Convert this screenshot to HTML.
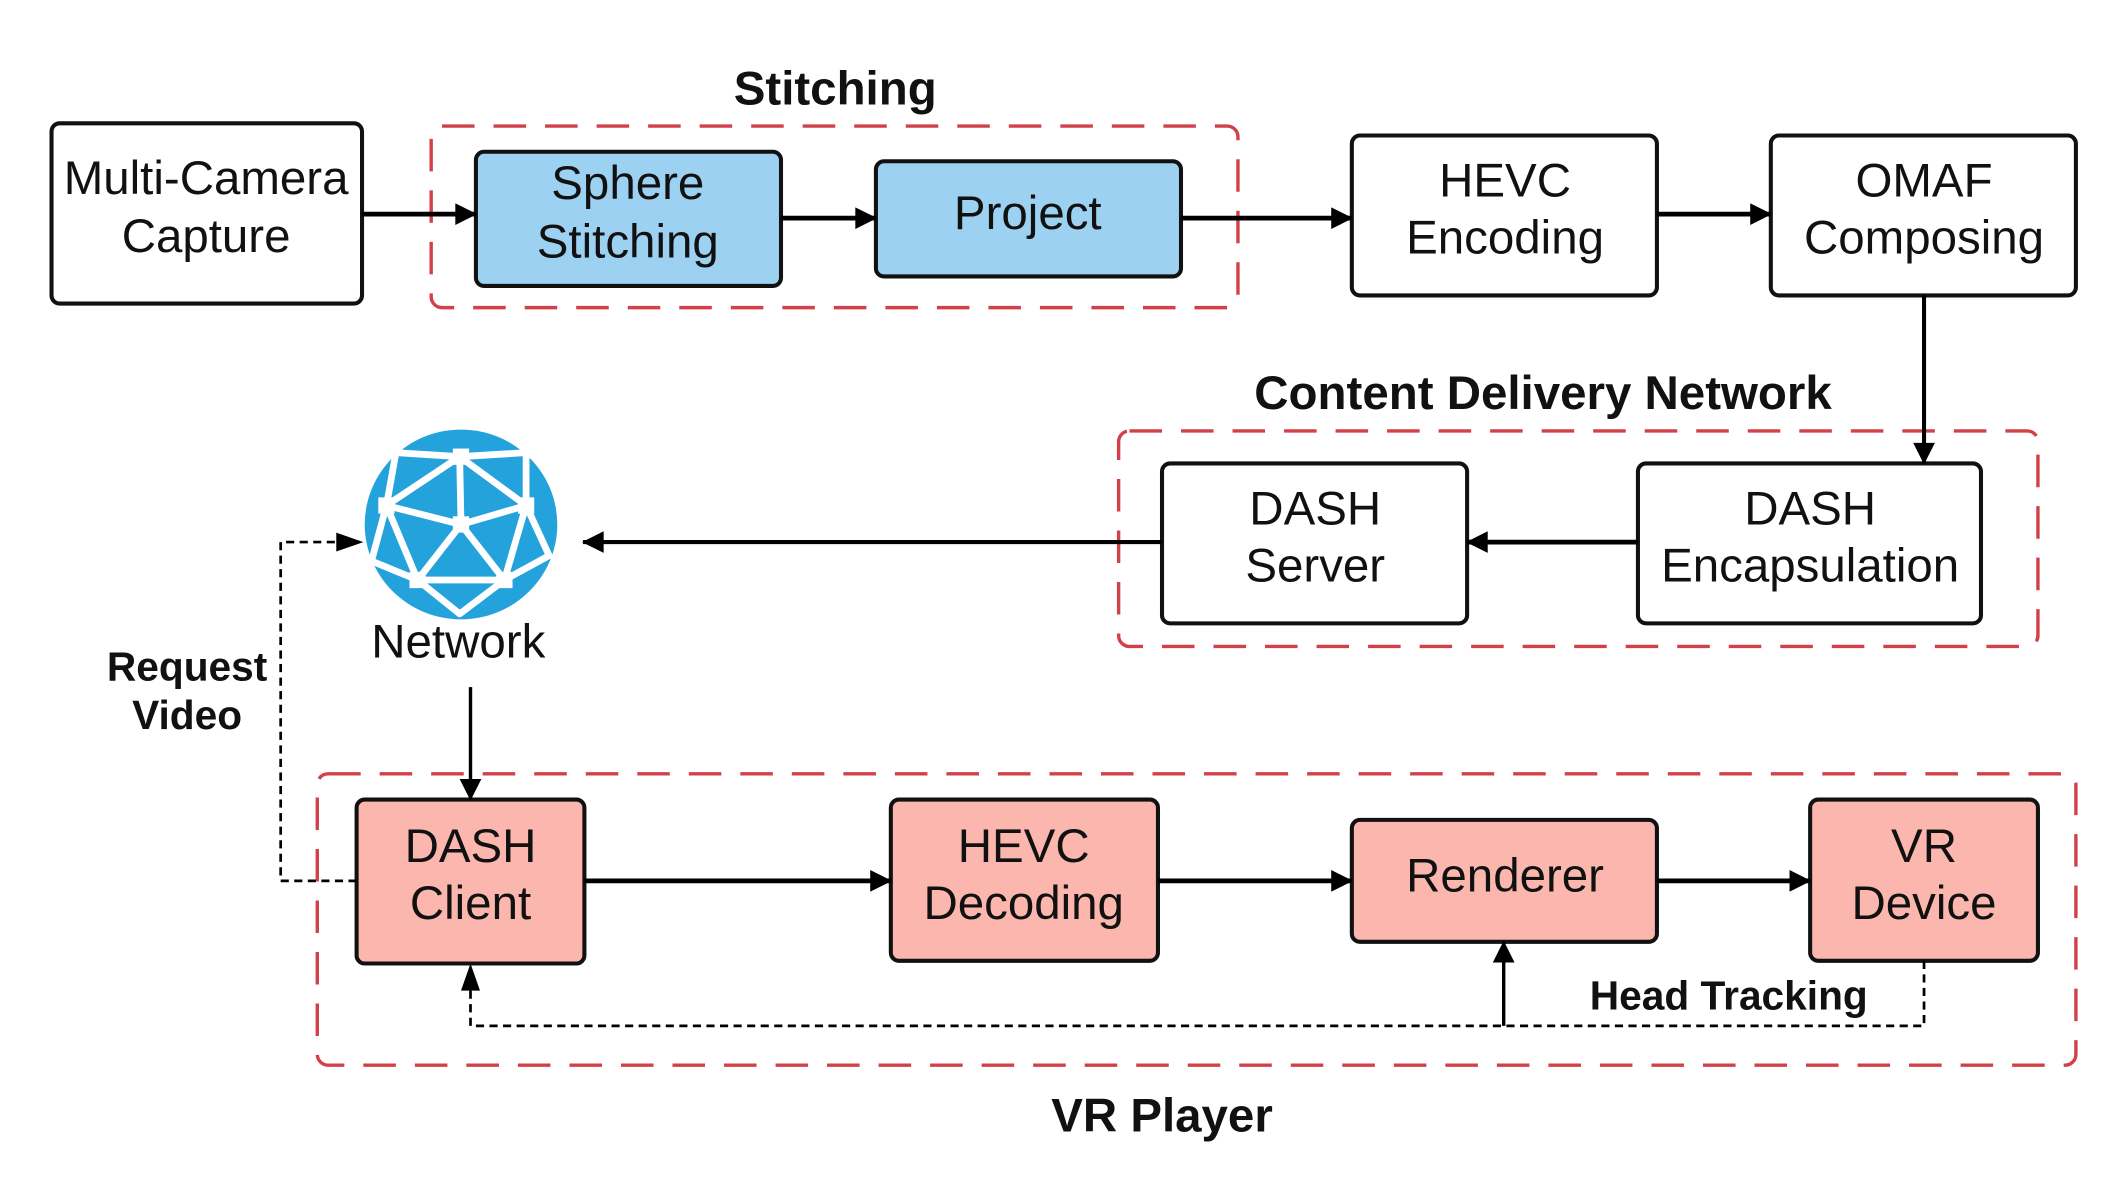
<!DOCTYPE html>
<html><head><meta charset="utf-8"><style>
html,body{margin:0;padding:0;background:#fff;}
svg{display:block;}
text{font-family:"Liberation Sans",Arial,sans-serif;fill:#111;}
.t{font-size:35px;text-anchor:middle;}
.b{font-size:35px;font-weight:bold;text-anchor:middle;}
.s{font-size:30px;font-weight:bold;text-anchor:middle;}
</style></head><body>
<svg width="2122" height="1179" viewBox="0 0 1565 870" preserveAspectRatio="none" xmlns="http://www.w3.org/2000/svg">
<defs>
<marker id="A" viewBox="0 0 10 10" refX="9.5" refY="5" markerWidth="20" markerHeight="16" orient="auto" markerUnits="userSpaceOnUse"><path d="M0,0 L10,5 L0,10 z" fill="#000"/></marker>
</defs>
<g fill="none" stroke="#d2404a" stroke-width="2.5" stroke-dasharray="24,14">
<rect x="318" y="93" width="595" height="134" rx="8"/>
<rect x="825" y="318" width="678" height="159" rx="8"/>
<rect x="234" y="571" width="1297" height="215" rx="8"/>
</g>
<text class="b" x="616" y="77">Stitching</text>
<text class="b" x="1138" y="302">Content Delivery Network</text>
<text class="b" x="857" y="835">VR Player</text>
<g stroke="#111" stroke-width="3">
<rect x="38" y="91" width="229" height="133" rx="6" fill="#fff"/>
<rect x="351" y="112" width="225" height="99" rx="6" fill="#9dd1f2"/>
<rect x="646" y="119" width="225" height="85" rx="6" fill="#9dd1f2"/>
<rect x="997" y="100" width="225" height="118" rx="6" fill="#fff"/>
<rect x="1306" y="100" width="225" height="118" rx="6" fill="#fff"/>
<rect x="857" y="342" width="225" height="118" rx="6" fill="#fff"/>
<rect x="1208" y="342" width="253" height="118" rx="6" fill="#fff"/>
<rect x="263" y="590" width="168" height="121" rx="6" fill="#fbb7ad"/>
<rect x="657" y="590" width="197" height="119" rx="6" fill="#fbb7ad"/>
<rect x="997" y="605" width="225" height="90" rx="6" fill="#fbb7ad"/>
<rect x="1335" y="590" width="168" height="119" rx="6" fill="#fbb7ad"/>
</g>
<text class="t" x="152" y="143">Multi-Camera</text><text class="t" x="152" y="186">Capture</text>
<text class="t" x="463" y="147">Sphere</text><text class="t" x="463" y="190">Stitching</text>
<text class="t" x="758" y="169">Project</text>
<text class="t" x="1110" y="145">HEVC</text><text class="t" x="1110" y="187">Encoding</text>
<text class="t" x="1419" y="145">OMAF</text><text class="t" x="1419" y="187">Composing</text>
<text class="t" x="970" y="387">DASH</text><text class="t" x="970" y="429">Server</text>
<text class="t" x="1335" y="387">DASH</text><text class="t" x="1335" y="429">Encapsulation</text>
<text class="t" x="347" y="636">DASH</text><text class="t" x="347" y="678">Client</text>
<text class="t" x="755" y="636">HEVC</text><text class="t" x="755" y="678">Decoding</text>
<text class="t" x="1110" y="658">Renderer</text>
<text class="t" x="1419" y="636">VR</text><text class="t" x="1419" y="678">Device</text>
<text class="t" x="338" y="485">Network</text>
<text class="s" x="138" y="502">Request</text><text class="s" x="138" y="538">Video</text>
<text class="s" x="1275" y="745">Head Tracking</text>
<g stroke="#000" stroke-width="3.5" fill="none" marker-end="url(#A)">
<line x1="267" y1="158" x2="351" y2="158"/>
<line x1="576" y1="161" x2="646" y2="161"/>
<line x1="871" y1="161" x2="997" y2="161"/>
<line x1="1222" y1="158" x2="1306" y2="158"/>
<line x1="1419" y1="218" x2="1419" y2="342" stroke-width="3"/>
<line x1="1208" y1="400" x2="1082" y2="400"/>
<line x1="857" y1="400" x2="430" y2="400" stroke-width="3"/>
<line x1="347" y1="507" x2="347" y2="590" stroke-width="2.5"/>
<line x1="431" y1="650" x2="657" y2="650"/>
<line x1="854" y1="650" x2="997" y2="650"/>
<line x1="1222" y1="650" x2="1335" y2="650"/>
<line x1="1109" y1="757" x2="1109" y2="695" stroke-width="2.5"/>
</g>
<g stroke="#000" stroke-width="2" fill="none" stroke-dasharray="6,4">
<path d="M263,650 H207 V400 H248"/>
<path d="M1419,709 V757 H347 V728"/>
</g>
<path d="M248,393 L268,400 L248,407 z" fill="#000"/>
<path d="M340,731 L347,711 L354,731 z" fill="#000"/>
<g transform="translate(340,387)">
<ellipse cx="0" cy="0" rx="71" ry="70" fill="#24a2dc"/>
<g stroke="#fff" stroke-width="5" stroke-linecap="round" fill="none">
<path d="M-48,-53 L-1,-50 L48,-53 M-48,-53 L-55,-14 M48,-53 L48,-14 M-1,-50 L-55,-14 M-1,-50 L48,-14 M-1,-50 L0,0 M-55,-14 L0,0 L48,-14 M-55,-14 L-32,41 M0,0 L-32,41 M0,0 L32,41 M48,-14 L32,41 M-32,41 L32,41 M-32,41 L-1,66 M32,41 L-1,66 M-66,27 L-32,41 M65,23 L32,41 M-55,-14 L-66,27 M48,-14 L65,23"/>
</g>
<g fill="#fff">
<rect x="-6" y="-56" width="12" height="12"/><rect x="-61" y="-20" width="12" height="12"/><rect x="42" y="-20" width="12" height="12"/>
<rect x="-6" y="-6" width="12" height="12"/><rect x="-38" y="35" width="12" height="12"/><rect x="26" y="35" width="12" height="12"/>
</g>
</g>
</svg>
</body></html>
